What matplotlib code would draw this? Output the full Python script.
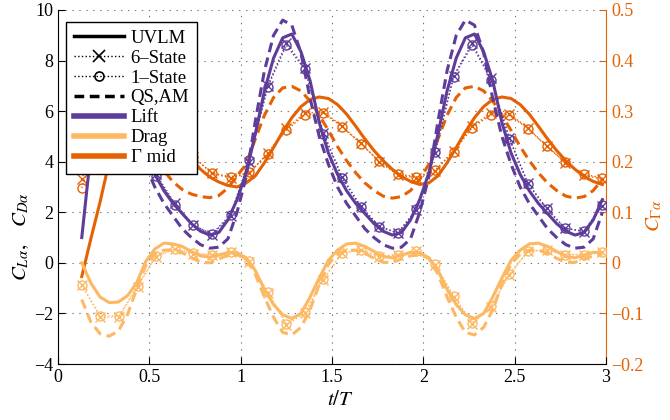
import numpy as np
import matplotlib
matplotlib.use("Agg")
import matplotlib.pyplot as plt
from matplotlib.lines import Line2D

plt.rcParams['font.family'] = ['Liberation Serif', 'DejaVu Serif']
plt.rcParams['mathtext.fontset'] = 'stix'
plt.rcParams['font.size'] = 13
plt.rcParams['lines.scale_dashes'] = False

purple = '#5e3c99'
light = '#fdb863'
orange = '#e66101'

# time grids: continuous models every 0.05 T, state-space samples every ~0.1 T
t_line = 0.13 + 0.05 * np.arange(58)
t_mark = np.linspace(0.13, 2.98, 29)

## UVLM (solid) and quasi-steady + added mass (dashed)
lift_uvlm = [1.0, 4.4, 6.8, 8.0, 7.9, 6.9, 5.5, 4.4, 3.5, 2.85, 2.35, 1.95, 1.55, 1.25, 1.1, 1.2, 1.7, 2.5,
             3.55, 5.1, 6.8, 8.1, 8.9, 9.05, 8.35, 7.2, 5.55, 4.35, 3.5, 2.85, 2.35, 1.95, 1.55, 1.25, 1.1, 1.2, 1.7, 2.5,
             3.55, 5.1, 6.8, 8.1, 8.9, 9.05, 8.35, 7.2, 5.55, 4.35, 3.5, 2.85, 2.35, 1.95, 1.55, 1.25, 1.1, 1.2, 1.7, 2.5]
lift_qs = [6.0, 8.0, 8.6, 8.2, 7.0, 5.6, 4.6, 3.8, 3.0, 2.35, 1.85, 1.35, 1.0, 0.72, 0.58, 0.62, 0.95, 2.0,
           3.4, 5.6, 7.6, 9.0, 9.6, 9.4, 8.3, 6.5, 5.0, 3.9, 3.0, 2.35, 1.85, 1.35, 1.0, 0.72, 0.58, 0.62, 0.95, 2.0,
           3.4, 5.6, 7.6, 9.0, 9.6, 9.4, 8.3, 6.5, 5.0, 3.9, 3.0, 2.35, 1.85, 1.35, 1.0, 0.72, 0.58, 0.62, 0.95, 2.0]
drag_uvlm = [0.0, -0.8, -1.35, -1.57, -1.55, -1.3, -0.8, 0.05, 0.55, 0.78, 0.75, 0.65, 0.45, 0.28, 0.22, 0.3, 0.4, 0.4,
             0.2, -0.3, -1.05, -1.65, -2.05, -2.2, -2.0, -1.35, -0.6, 0.1, 0.5, 0.75, 0.78, 0.65, 0.45, 0.25, 0.2, 0.3, 0.42, 0.4,
             0.2, -0.3, -1.05, -1.65, -2.05, -2.2, -2.0, -1.35, -0.6, 0.1, 0.5, 0.75, 0.78, 0.65, 0.45, 0.25, 0.2, 0.3, 0.42, 0.4]
drag_qs = [-1.45, -2.35, -2.8, -2.9, -2.7, -2.05, -1.05, -0.1, 0.35, 0.5, 0.52, 0.4, 0.2, 0.03, 0.0, 0.15, 0.3, 0.32,
           0.2, -0.45, -1.35, -2.15, -2.75, -2.85, -2.55, -1.85, -0.85, -0.05, 0.35, 0.5, 0.5, 0.38, 0.18, 0.02, 0.02, 0.15, 0.28, 0.32,
           0.2, -0.45, -1.35, -2.15, -2.75, -2.85, -2.55, -1.85, -0.85, -0.05, 0.35, 0.5, 0.5, 0.38, 0.18, 0.02, 0.02, 0.15, 0.28, 0.32]
gamma_uvlm = [-0.027, 0.048, 0.12, 0.20, 0.26, 0.30, 0.318, 0.318, 0.305, 0.285, 0.26, 0.233, 0.205, 0.185, 0.170, 0.160, 0.153, 0.150,
              0.158, 0.172, 0.198, 0.228, 0.259, 0.287, 0.309, 0.323, 0.328, 0.325, 0.313, 0.294, 0.270, 0.245, 0.222, 0.202, 0.185, 0.171, 0.161, 0.155,
              0.158, 0.172, 0.198, 0.228, 0.259, 0.287, 0.309, 0.323, 0.328, 0.325, 0.313, 0.294, 0.270, 0.245, 0.222, 0.202, 0.185, 0.171, 0.161, 0.155]
gamma_qs = [0.20, 0.26, 0.31, 0.34, 0.345, 0.33, 0.295, 0.255, 0.215, 0.182, 0.16, 0.145, 0.136, 0.131, 0.129, 0.133, 0.148, 0.172,
            0.195, 0.245, 0.292, 0.327, 0.346, 0.349, 0.340, 0.320, 0.292, 0.262, 0.230, 0.202, 0.178, 0.158, 0.143, 0.132, 0.128, 0.131, 0.143, 0.165,
            0.195, 0.245, 0.292, 0.327, 0.346, 0.349, 0.340, 0.320, 0.292, 0.262, 0.230, 0.202, 0.178, 0.158, 0.143, 0.132, 0.128, 0.131, 0.143, 0.165]

## reduced-order state-space models (6 states and 1 state)
lift_6s = [5.0, 8.0, 7.6, 5.4, 3.5, 2.36, 1.5, 1.12, 1.85, 4.0, 7.0, 8.7, 7.7, 5.15, 3.4, 2.25, 1.45, 1.17, 2.09,
           4.34, 7.4, 8.68, 7.3, 4.93, 3.15, 2.16, 1.37, 1.24, 2.23]
lift_1s = [5.2, 7.9, 7.5, 5.3, 3.45, 2.3, 1.48, 1.14, 1.9, 4.05, 6.95, 8.6, 7.65, 5.1, 3.35, 2.22, 1.43, 1.19, 2.12,
           4.38, 7.35, 8.6, 7.25, 4.9, 3.12, 2.13, 1.36, 1.26, 2.27]
drag_6s = [-0.87, -2.15, -2.15, -0.94, 0.25, 0.54, 0.36, 0.32, 0.42, 0.05, -1.2, -2.45, -1.99, -0.67, 0.38, 0.51, 0.25,
           0.32, 0.45, -0.08, -1.35, -2.41, -1.75, -0.47, 0.45, 0.51, 0.32, 0.32, 0.41]
drag_1s = [-0.87, -2.1, -2.1, -0.9, 0.27, 0.55, 0.38, 0.33, 0.43, 0.07, -1.15, -2.4, -1.95, -0.63, 0.4, 0.52, 0.27,
           0.33, 0.46, -0.05, -1.3, -2.36, -1.72, -0.44, 0.46, 0.52, 0.33, 0.33, 0.42]
gamma_6s = [0.165, 0.27, 0.31, 0.30, 0.275, 0.245, 0.21, 0.177, 0.168, 0.177, 0.217, 0.266, 0.296, 0.299, 0.27, 0.237,
            0.200, 0.174, 0.168, 0.182, 0.222, 0.270, 0.296, 0.295, 0.266, 0.232, 0.198, 0.173, 0.166]
gamma_1s = [0.148, 0.26, 0.305, 0.298, 0.272, 0.243, 0.209, 0.178, 0.170, 0.179, 0.215, 0.262, 0.293, 0.297, 0.269,
            0.236, 0.201, 0.176, 0.170, 0.183, 0.220, 0.267, 0.293, 0.293, 0.265, 0.231, 0.199, 0.175, 0.168]

x_ticks = [0, 0.5, 1, 1.5, 2, 2.5, 3]
x_ticklabels = ['0', '0.5', '1', '1.5', '2', '2.5', '3']
y_ticks = [-4, -2, 0, 2, 4, 6, 8, 10]
g_ticks = [-0.2, -0.1, 0, 0.1, 0.2, 0.3, 0.4, 0.5]
g_ticklabels = ['\u22120.2', '\u22120.1', '0', '0.1', '0.2', '0.3', '0.4', '0.5']

legend_labels = ['UVLM', '6\u2013State', '1\u2013State', 'QS,AM', 'Lift', 'Drag', '\u0393 mid']


def draw_set(axis, t_l, uvlm, qs, t_m, s6, s1, col):
    axis.plot(t_l, qs, color=col, lw=2.2, dashes=[7, 4])
    axis.plot(t_l, uvlm, color=col, lw=2.2)
    axis.plot(t_m, s6, color=col, lw=1, ls=':', marker='x', ms=7, mew=1)
    axis.plot(t_m, s1, color=col, lw=1, ls=':', marker='o', ms=6.5, mew=1, mfc='none')


fig = plt.figure(figsize=(6.7, 4.2), dpi=100)
ax = fig.add_axes([0.0866, 0.1333, 0.8179, 0.8429])
ax2 = ax.twinx()
# keep the lift/drag axes (and legend) above the circulation axes
ax.set_zorder(2)
ax2.set_zorder(1)
ax.patch.set_visible(False)

draw_set(ax2, t_line, gamma_uvlm, gamma_qs, t_mark, gamma_6s, gamma_1s, orange)
draw_set(ax, t_line, drag_uvlm, drag_qs, t_mark, drag_6s, drag_1s, light)
draw_set(ax, t_line, lift_uvlm, lift_qs, t_mark, lift_6s, lift_1s, purple)

ax.set_xlim(0, 3)
ax.set_ylim(-4, 10)
ax2.set_ylim(-0.2, 0.5)
ax.set_xticks(x_ticks)
ax.set_xticklabels(x_ticklabels)
ax.set_yticks(y_ticks)
ax2.set_yticks(g_ticks)
ax2.set_yticklabels(g_ticklabels)

ax.grid(True, color='#777777', lw=0.8, ls=(0, (1, 4)))
ax.tick_params(direction='in', length=5, width=0.8, colors='black')
ax2.tick_params(axis='y', direction='in', length=5, width=0.8, colors=orange)

for s in ['top', 'right']:
    ax.spines[s].set_visible(False)
for s in ['top', 'left', 'bottom']:
    ax2.spines[s].set_visible(False)
ax2.spines['right'].set_color(orange)

ax.set_xlabel(r'$t/T$', fontsize=15)
ax.xaxis.set_label_coords(0.515, -0.075)
ax.set_ylabel(r'$C_{L\alpha},\quad C_{D\alpha}$', fontsize=15)
ax.yaxis.set_label_coords(-0.05, 0.36)
ax2.set_ylabel(r'$C_{\Gamma\alpha}$', fontsize=15, color=orange)
ax2.yaxis.set_label_coords(1.07, 0.42)

handles = [Line2D([], [], color='k', lw=2.5),
           Line2D([], [], color='k', lw=1, ls=':', marker='x', ms=8, mew=1.2),
           Line2D([], [], color='k', lw=1, ls=':', marker='o', ms=6.5, mew=1.2, mfc='none'),
           Line2D([], [], color='k', lw=2.5, dashes=[7, 4]),
           Line2D([], [], color=purple, lw=4),
           Line2D([], [], color=light, lw=4),
           Line2D([], [], color=orange, lw=4)]
leg = ax.legend(handles, legend_labels, loc='upper left', bbox_to_anchor=(0.0146, 0.966),
                borderaxespad=0, fancybox=False, edgecolor='black', framealpha=1,
                numpoints=1, handlelength=2.7, handletextpad=0.35, labelspacing=0.15,
                borderpad=0.4, fontsize=13.5)
leg.get_frame().set_linewidth(1.0)

fig.savefig('out.png', dpi=100)
